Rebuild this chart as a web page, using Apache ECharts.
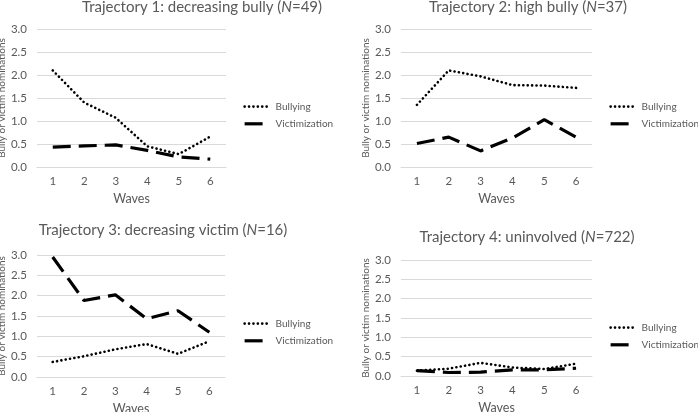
<!DOCTYPE html>
<html><head><meta charset="utf-8">
<script src="https://cdn.jsdelivr.net/npm/echarts@6/dist/echarts.min.js"></script>
<style>html,body{margin:0;padding:0;background:#fff}#c{width:698px;height:412px}</style>
</head><body><div id="c"></div>
<script>
const waves = ['1','2','3','4','5','6'];
const yTicks = [0, 0.5, 1.0, 1.5, 2.0, 2.5, 3.0];
const titles = [
  ['Trajectory 1: decreasing bully (', 'N', '=49)'],
  ['Trajectory 2: high bully (', 'N', '=37)'],
  ['Trajectory 3: decreasing victim (', 'N', '=16)'],
  ['Trajectory 4: uninvolved (', 'N', '=722)']
];
const seriesNames = ['Bullying', 'Victimization'];
const bully1 = [2.1, 1.4, 1.07, 0.45, 0.28, 0.66];
const victim1 = [0.43, 0.46, 0.48, 0.36, 0.22, 0.17];
const bully2 = [1.35, 2.1, 1.97, 1.78, 1.77, 1.72];
const victim2 = [0.51, 0.65, 0.35, 0.63, 1.03, 0.65];
const bully3 = [0.37, 0.51, 0.68, 0.81, 0.57, 0.88];
const victim3 = [2.95, 1.88, 2.02, 1.43, 1.63, 1.1];
const bully4 = [0.14, 0.19, 0.34, 0.22, 0.18, 0.32];
const victim4 = [0.14, 0.09, 0.1, 0.16, 0.16, 0.2];
const bullyData = [bully1, bully2, bully3, bully4];
const victimData = [victim1, victim2, victim3, victim4];

const FONT = 'Lato';
const TXT = '#595959';
const GRIDC = '#d9d9d9';
const grids = [
  {left: 37, top: 29, width: 189, height: 138},
  {left: 401, top: 29, width: 191, height: 138},
  {left: 37, top: 255, width: 188, height: 122},
  {left: 401, top: 260, width: 191, height: 116}
];
const titlePos = [[202, 0], [528, 0], [163, 223], [527, 230]];
const legendPos = [[243, 101], [609, 101], [243, 318], [609, 322]];

const bullyStyle = {color: '#000', width: 2.6, type: [0.1, 4.3], cap: 'round'};
const victimStyle = {color: '#000', width: 3.2, type: [18, 8], cap: 'butt'};
const hiddenSymbol = {color: 'rgba(0,0,0,0)', borderWidth: 0, opacity: 0};

const option = {
  animation: false,
  backgroundColor: '#fff',
  textStyle: {fontFamily: FONT},
  title: titles.map((t, i) => ({
    text: '{a|' + t[0] + '}{i|' + t[1] + '}{a|' + t[2] + '}',
    left: titlePos[i][0], top: titlePos[i][1], textAlign: 'center', padding: 0,
    textStyle: {fontWeight: 'normal', rich: {
      a: {fontFamily: FONT, fontSize: 15, color: TXT, fontWeight: 'normal'},
      i: {fontFamily: FONT, fontSize: 15, color: TXT, fontStyle: 'italic', fontWeight: 'normal'}
    }}
  })),
  legend: legendPos.map((p, i) => ({
    orient: 'vertical', left: p[0], top: p[1], padding: 0,
    itemWidth: 26, itemHeight: 14, itemGap: 6,
    textStyle: {fontFamily: FONT, fontSize: 10, color: TXT},
    data: [
      {name: seriesNames[0], lineStyle: bullyStyle, itemStyle: hiddenSymbol},
      {name: seriesNames[1], lineStyle: victimStyle, itemStyle: hiddenSymbol}
    ],
    selectedMode: false
  })),
  grid: grids.map(g => Object.assign({containLabel: false, outerBoundsMode: 'none'}, g)),
  xAxis: grids.map((g, i) => ({
    type: 'category', gridIndex: i, data: waves, boundaryGap: true,
    name: 'Waves', nameLocation: 'middle', nameGap: 25,
    nameTextStyle: {fontFamily: FONT, fontSize: 12.5, color: TXT},
    axisLine: {show: true, lineStyle: {color: GRIDC, width: 1}},
    axisTick: {show: false},
    axisLabel: {fontFamily: FONT, fontSize: 11.5, color: TXT, margin: 8},
    splitLine: {show: false}
  })),
  yAxis: grids.map((g, i) => ({
    type: 'value', gridIndex: i, min: yTicks[0], max: yTicks[yTicks.length - 1], interval: 0.5,
    name: 'Bully or victim nominations', nameLocation: 'middle', nameGap: 26,
    nameTextStyle: {fontFamily: FONT, fontSize: 10, color: TXT},
    axisLine: {show: false}, axisTick: {show: false},
    axisLabel: {fontFamily: FONT, fontSize: 11.5, color: TXT, margin: 10, formatter: v => v.toFixed(1)},
    splitLine: {show: true, lineStyle: {color: GRIDC, width: 1}}
  })),
  series: []
};
for (let i = 0; i < 4; i++) {
  option.series.push({
    type: 'line', name: seriesNames[0], xAxisIndex: i, yAxisIndex: i,
    data: bullyData[i], showSymbol: false, symbol: 'none', lineStyle: bullyStyle, itemStyle: {color: '#000'}
  });
  option.series.push({
    type: 'line', name: seriesNames[1], xAxisIndex: i, yAxisIndex: i,
    data: victimData[i], showSymbol: false, symbol: 'none', lineStyle: victimStyle, itemStyle: {color: '#000'}
  });
}
const chart = echarts.init(document.getElementById('c'), null, {renderer: 'canvas'});
chart.setOption(option);
</script></body></html>
